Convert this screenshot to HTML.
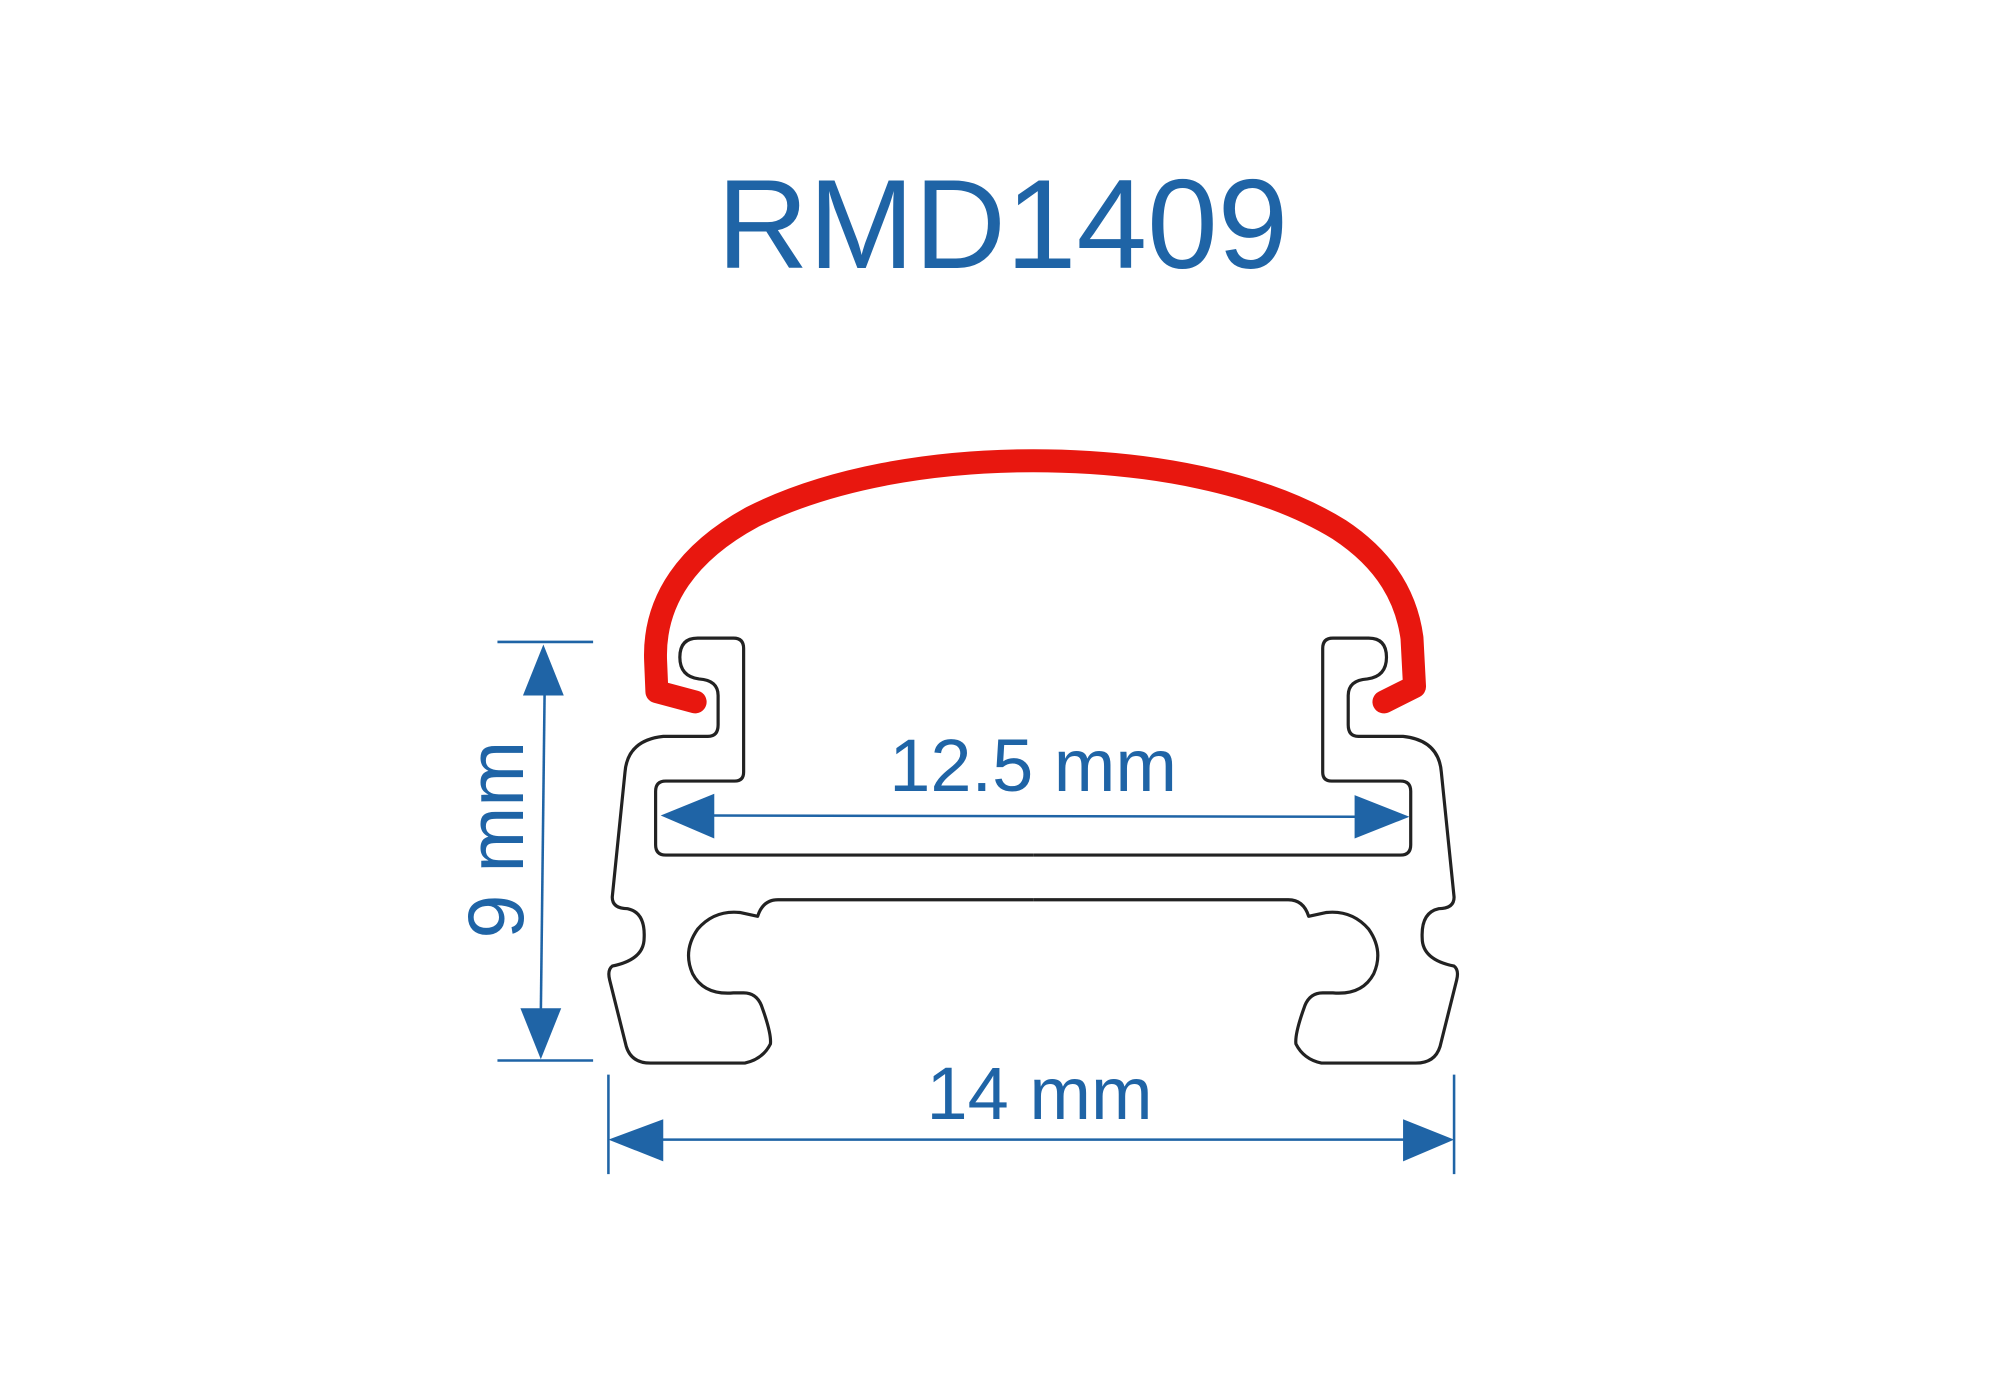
<!DOCTYPE html>
<html><head><meta charset="utf-8"><style>
html,body{margin:0;padding:0;background:#fff;}
svg{display:block;}
</style></head><body>
<svg width="2000" height="1400" viewBox="0 0 1568 1097" preserveAspectRatio="none" xmlns="http://www.w3.org/2000/svg">
<rect width="1568" height="1097" fill="#fff"/>
<text x="786" y="210" text-anchor="middle" font-family="Liberation Sans, sans-serif" font-size="100" fill="#1f64a6" textLength="448" lengthAdjust="spacingAndGlyphs">RMD1409</text>

<g fill="none" stroke="#222" stroke-width="2.5" stroke-linejoin="round">
<path id="half" d="M810,670 L522,670 Q514,670 514,662 L514,620 Q514,612 522,612 L576,612 Q583,612 583,605 L583,508 Q583,500 575,500 L547,500 Q533,500 533,515 Q533,530 548,532 Q563,533 563,545 L563,568 Q563,577 555,577 L520,577 Q492,580 490,605 L480,703 Q480,712 492,712 Q506,715 505,735 Q505,752 480,757 Q476,760 478,768 L491,820 Q495,833 510,833 L584,833 Q598,830 604,818 Q605,810 597,788 Q593,778 583,778 L575,778 Q552,780 543,763 Q535,745 547,728 Q560,713 580,715 L594,718 Q598,705 610,705 L810,705"/>
<use href="#half" transform="translate(1620,0) scale(-1,1)"/>
</g>

<path d="M545,550 L515,542 L514,518 C512,470 540,432 590,405 C650,375 730,361 810,361 C900,361 990,378 1050,415 C1088,440 1103,470 1107,500 L1109,538 L1085,550" fill="none" stroke="#e8170f" stroke-width="18" stroke-linecap="round" stroke-linejoin="round"/>

<g stroke="#1f64a6" stroke-width="2" fill="#1f64a6">
<line x1="390" y1="503" x2="465" y2="503"/>
<line x1="390" y1="831" x2="465" y2="831"/>
<line x1="427" y1="540" x2="424" y2="795"/>
<polygon points="426,505 410,545 442,545" stroke="none"/>
<polygon points="424,830 408,790 440,790" stroke="none"/>

<line x1="555" y1="639" x2="1065" y2="640"/>
<polygon points="518,639 560,622 560,657" stroke="none"/>
<polygon points="1105,640 1062,623 1062,657" stroke="none"/>

<line x1="477" y1="842" x2="477" y2="920"/>
<line x1="1140" y1="842" x2="1140" y2="920"/>
<line x1="515" y1="893" x2="1102" y2="893"/>
<polygon points="477,893 520,877 520,910" stroke="none"/>
<polygon points="1140,893 1100,877 1100,910" stroke="none"/>
</g>

<g font-family="Liberation Sans, sans-serif" fill="#1f64a6">
<text x="810" y="620" text-anchor="middle" font-size="58">12.5 mm</text>
<text x="815" y="877" text-anchor="middle" font-size="58">14 mm</text>
<text transform="translate(410,658) rotate(-90)" text-anchor="middle" font-size="62">9 mm</text>
</g>
</svg>
</body></html>
